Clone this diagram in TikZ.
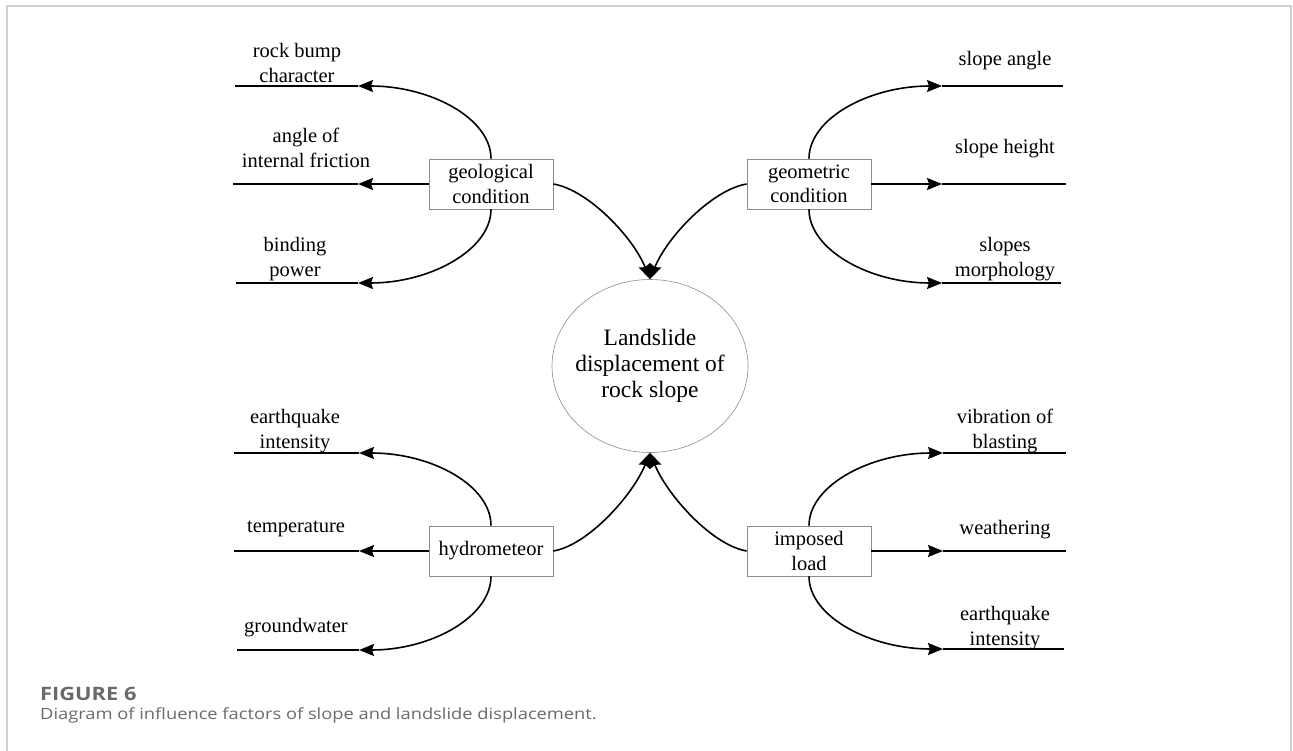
\documentclass[tikz,border=0pt]{standalone}
\usepackage{fontspec}
\setmainfont{Liberation Serif}
\newfontfamily\capfont[FakeStretch=1.18]{Open Sans}
\usetikzlibrary{
	arrows.meta,
	shapes.geometric
}
\definecolor{framegray}{HTML}{D2D2D2}
\definecolor{boxgray}{HTML}{8C8C8C}
\definecolor{capgray}{HTML}{6A6A6A}

\begin{document}
\begin{tikzpicture}[
			x=1pt, y=-1pt,
			BoxStyle/.style={draw=boxgray, line width=0.8pt, minimum width=124pt, minimum height=50pt,
				inner sep=2pt, align=center, font=\fontsize{20.5}{24.5}\selectfont},
			CoreStyle/.style={ellipse, draw=boxgray, line width=0.6pt, minimum width=196pt,
				minimum height=173pt, inner xsep=-10pt, inner ysep=0pt, align=center,
				font=\fontsize{23.5}{26}\selectfont},
			LabelStyle/.style={align=center, inner sep=0pt, font=\fontsize{20.5}{24.5}\selectfont},
			LinkStyle/.style={line width=1.6pt},
			CapStyle/.style={anchor=base west, inner sep=0pt, text=capgray}]
		\useasboundingbox (0,0) rectangle (1293,751);
		\draw[framegray, line width=1.5pt] (7,751) -- (7,6) -- (1291,6) -- (1291,751);
		% centre and the four groups of factors
		\node [CoreStyle] (core) at (650,366) {Landslide\\displacement of\\rock slope};
		\node [BoxStyle] (geo) at (491,184) {geological\\condition};
		\node [BoxStyle] (geom) at (809,184) {geometric\\condition};
		\node [BoxStyle] (hydro) at (491,551) {hydrometeor};
		\node [BoxStyle] (load) at (809,551) {imposed\\load};
		% ends of the factor lines
		\coordinate (gTip1) at (358,86);   \coordinate (gEnd1) at (235,86);
		\coordinate (gTip2) at (358,184);  \coordinate (gEnd2) at (233,184);
		\coordinate (gTip3) at (358,283);  \coordinate (gEnd3) at (236,283);
		\coordinate (mTip1) at (942,86);   \coordinate (mEnd1) at (1063,86);
		\coordinate (mTip2) at (942,184);  \coordinate (mEnd2) at (1066,184);
		\coordinate (mTip3) at (942,283);  \coordinate (mEnd3) at (1061,283);
		\coordinate (hTip1) at (359,453);  \coordinate (hEnd1) at (234,453);
		\coordinate (hTip2) at (359,551);  \coordinate (hEnd2) at (234,551);
		\coordinate (hTip3) at (359,650);  \coordinate (hEnd3) at (237,650);
		\coordinate (lTip1) at (943,453);  \coordinate (lEnd1) at (1066,453);
		\coordinate (lTip2) at (943,551);  \coordinate (lEnd2) at (1066,551);
		\coordinate (lTip3) at (943,649);  \coordinate (lEnd3) at (1064,649);
		% factor names
		\node [LabelStyle] (lRock) at (297,63) {rock bump\\character};
		\node [LabelStyle] (lAngle) at (306,148) {angle of\\internal friction};
		\node [LabelStyle] (lBind) at (295,259) {binding\\power};
		\node [LabelStyle] (rSlopeA) at (1005,61) {slope angle};
		\node [LabelStyle] (rSlopeH) at (1005,149) {slope height};
		\node [LabelStyle] (rMorph) at (1005,259) {slopes\\morphology};
		\node [LabelStyle] (lQuake) at (295,431) {earthquake\\intensity};
		\node [LabelStyle] (lTemp) at (296,529) {temperature};
		\node [LabelStyle] (lGround) at (296,628) {groundwater};
		\node [LabelStyle] (rVib) at (1005,431) {vibration of\\blasting};
		\node [LabelStyle] (rWeath) at (1005,530) {weathering};
		\node [LabelStyle] (rQuake) at (1005,628) {earthquake\\intensity};
		\begin{scope}[LinkStyle, -{Stealth[length=15pt, width=12pt, inset=2pt]}]
			\draw (geo.north) .. controls +(0,-40) and +(73,0) .. (gTip1);
			\draw (geo.west) -- (gTip2);
			\draw (geo.south) .. controls +(0,40) and +(73,0) .. (gTip3);
			\draw (geom.north) .. controls +(0,-40) and +(-73,0) .. (mTip1);
			\draw (geom.east) -- (mTip2);
			\draw (geom.south) .. controls +(0,40) and +(-73,0) .. (mTip3);
			\draw (hydro.north) .. controls +(0,-40) and +(73,0) .. (hTip1);
			\draw (hydro.west) -- (hTip2);
			\draw (hydro.south) .. controls +(0,40) and +(73,0) .. (hTip3);
			\draw (load.north) .. controls +(0,-40) and +(-73,0) .. (lTip1);
			\draw (load.east) -- (lTip2);
			\draw (load.south) .. controls +(0,40) and +(-73,0) .. (lTip3);
			\draw (geo.east) .. controls +(35,6) and +(-17,-42) .. (core.north);
			\draw (geom.west) .. controls +(-35,6) and +(17,-42) .. (core.north);
			\draw (hydro.east) .. controls +(35,-6) and +(-17,42) .. (core.south);
			\draw (load.west) .. controls +(-35,-6) and +(17,42) .. (core.south);
		\end{scope}
		\draw [LinkStyle] (gTip1) -- (gEnd1) (gTip2) -- (gEnd2) (gTip3) -- (gEnd3);
		\draw [LinkStyle] (mTip1) -- (mEnd1) (mTip2) -- (mEnd2) (mTip3) -- (mEnd3);
		\draw [LinkStyle] (hTip1) -- (hEnd1) (hTip2) -- (hEnd2) (hTip3) -- (hEnd3);
		\draw [LinkStyle] (lTip1) -- (lEnd1) (lTip2) -- (lEnd2) (lTip3) -- (lEnd3);
		% caption
		\node [CapStyle, font=\capfont\bfseries\fontsize{18.5}{20}\selectfont] (figNo) at (40,700) {FIGURE 6};
		\node [CapStyle, font=\capfont\fontsize{15.5}{20}\selectfont] (figCap) at (40,719)
			{Diagram of influence factors of slope and landslide displacement.};
\end{tikzpicture}
\end{document}
